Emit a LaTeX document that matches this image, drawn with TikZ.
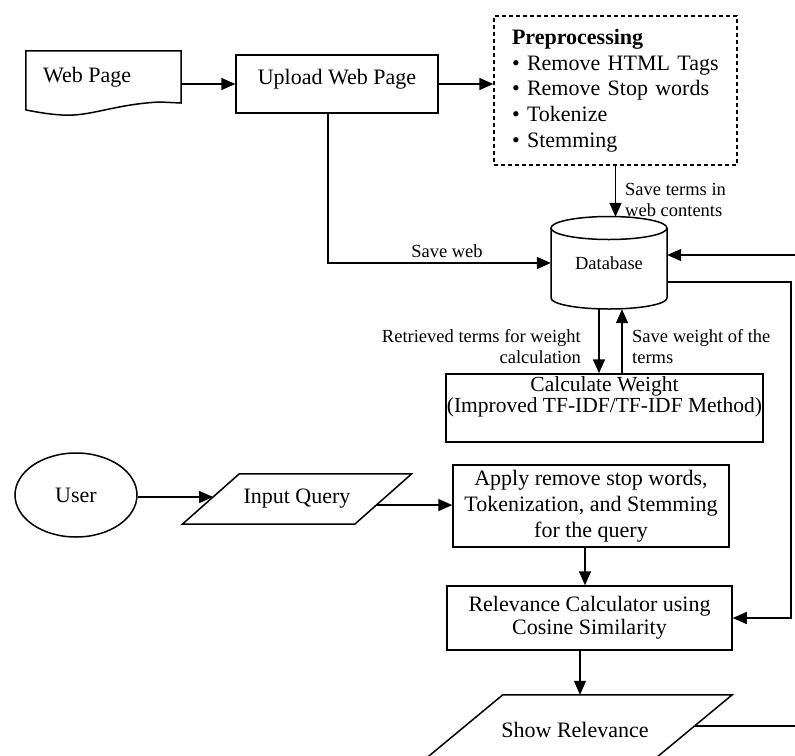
\documentclass[tikz,border=0pt]{standalone}
\usepackage{fontspec}
\setmainfont{Liberation Serif}
\usetikzlibrary{arrows.meta,calc,shapes.geometric}
\newcommand\bxfont{\fontsize{22}{26}\selectfont}
\newcommand\lbfont{\fontsize{18.5}{21}\selectfont}
\begin{document}
\begin{tikzpicture}[x=1pt,y=-1pt,
  ln/.style={line width=1.5pt, line join=miter},
  arr/.style={ln, -{Triangle[length=14pt,width=12pt]}},
  box/.style={draw, ln, rectangle, inner sep=0pt, align=center, font=\bxfont},
  plain/.style={inner sep=0pt, font=\bxfont},
  lbl/.style={inner sep=0pt, font=\lbfont}
]
\useasboundingbox (0,0) rectangle (795,755);
\clip (0,0) rectangle (795,755);

% Web page (document shape)
\node[minimum width=155pt, minimum height=66pt, inner sep=0pt] (web) at (103.5,84) {};
\draw[ln] (web.north west) -- (web.north east) -- (181,103) -- (160,102)
  .. controls (115,104) and (90,117) .. (62,115)
  .. controls (45,114) and (32,111) .. (26,110) -- cycle;
\node[plain, anchor=west] (webtxt) at (43,77) {Web Page};

% Upload
\node[box, minimum width=202pt, minimum height=58pt, text depth=14pt, text height=14pt] (upload) at (337,84) {Upload Web Page};

% Preprocessing
\node[draw, ln, dash pattern=on 4pt off 3pt, minimum width=243pt, minimum height=149pt,
  text width=207pt, align=left, inner sep=0pt, font=\fontsize{22}{25.75}\selectfont] (prep) at (615.5,90.5)
  {\textbf{Preprocessing}\\\textbullet\ Remove HTML Tags\\\textbullet\ Remove Stop words\\\textbullet\ Tokenize\\\textbullet\ Stemming};

% Database
\node[minimum width=116pt, minimum height=92pt, inner sep=0pt, font=\lbfont] (db) at (609,263) {Database};
\draw[ln] (551,228) -- (551,298) arc[start angle=180, end angle=0, x radius=58, y radius=11] -- (667,228);
\draw[ln] (609,228) ellipse[x radius=58, y radius=11.5];

% Calculate weight
\node[box, minimum width=317pt, minimum height=68pt] (calc) at (604.5,408) {};
\node[inner sep=0pt, align=center, font=\fontsize{21.5}{19}\selectfont] (calctxt) at (604.5,397)
  {Calculate Weight\\(Improved TF-IDF/TF-IDF Method)};

% User
\node[draw, ln, ellipse, minimum width=122pt, minimum height=84pt, inner sep=0pt, font=\bxfont] (user) at (76,495) {User};

% Input query
\node[plain, minimum width=172pt, minimum height=50pt] (inq) at (297,499) {Input Query};
\draw[ln] ([xshift=28.5pt]inq.north west) -- ([xshift=28.5pt]inq.north east)
  -- ([xshift=-28.5pt]inq.south east) -- ([xshift=-28.5pt]inq.south west) -- cycle;

% Apply
\node[box, minimum width=276pt, minimum height=82pt] (apply) at (591,506)
  {Apply remove stop words,\\Tokenization, and Stemming\\for the query};

% Relevance
\node[box, minimum width=285pt, minimum height=64pt, font=\fontsize{22}{23}\selectfont] (rel) at (589.5,618)
  {Relevance Calculator using\\Cosine Similarity};

% Show relevance
\node[plain, minimum width=229pt, minimum height=70pt] (show) at (575,730) {Show Relevance};
\draw[ln] ([xshift=42.5pt]show.north west) -- ([xshift=42.5pt]show.north east)
  -- ([xshift=-42.5pt]show.south east) -- ([xshift=-42.5pt]show.south west) -- cycle;

% Connectors
\draw[arr] (web.east) -- (upload.west);
\draw[arr] (upload.east) -- (upload.east -| prep.west);
\draw[arr] (prep.south) -- (prep.south |- db.north);
\node[lbl, anchor=west, align=left] (lterms) at (625,200) {Save terms in\\web contents};

\draw[arr] ([xshift=-9pt]upload.south) |- (db.west);
\node[lbl] (lweb) at (447,251) {Save web};

\coordinate (rin) at (800,255);
\draw[arr] (rin) -- (rin -| db.east);
\draw[arr] ([yshift=-19pt]db.east) -- (791,282) |- (rel.east);

\draw[arr] ([xshift=-10pt]db.south) -- ([xshift=-10pt]db.south |- calc.north);
\draw[arr] ([xshift=13pt]db.south |- calc.north) -- ([xshift=13pt]db.south);
\node[lbl, anchor=east, align=right] (lret) at (581,347) {Retrieved terms for weight\\calculation};
\node[lbl, anchor=west, align=left] (lsw) at (632,347) {Save weight of the\\terms};

\coordinate (inqin) at ($([xshift=28.5pt]inq.north west)!0.46!([xshift=-28.5pt]inq.south west)$);
\draw[arr] (user.east |- inqin) -- (inqin);
\coordinate (inqout) at ($([xshift=28.5pt]inq.north east)!0.62!([xshift=-28.5pt]inq.south east)$);
\draw[arr] (inqout) -- (inqout -| apply.west);
\draw[arr] ([xshift=-6pt]apply.south) -- ([xshift=-6pt]apply.south |- rel.north);
\draw[arr] ([xshift=-9.5pt]rel.south) -- ([xshift=-9.5pt]rel.south |- show.north);
\coordinate (sout) at ($([xshift=42.5pt]show.north east)!0.443!([xshift=-42.5pt]show.south east)$);
\draw[ln] (sout) -- (sout -| rin);
\end{tikzpicture}
\end{document}
